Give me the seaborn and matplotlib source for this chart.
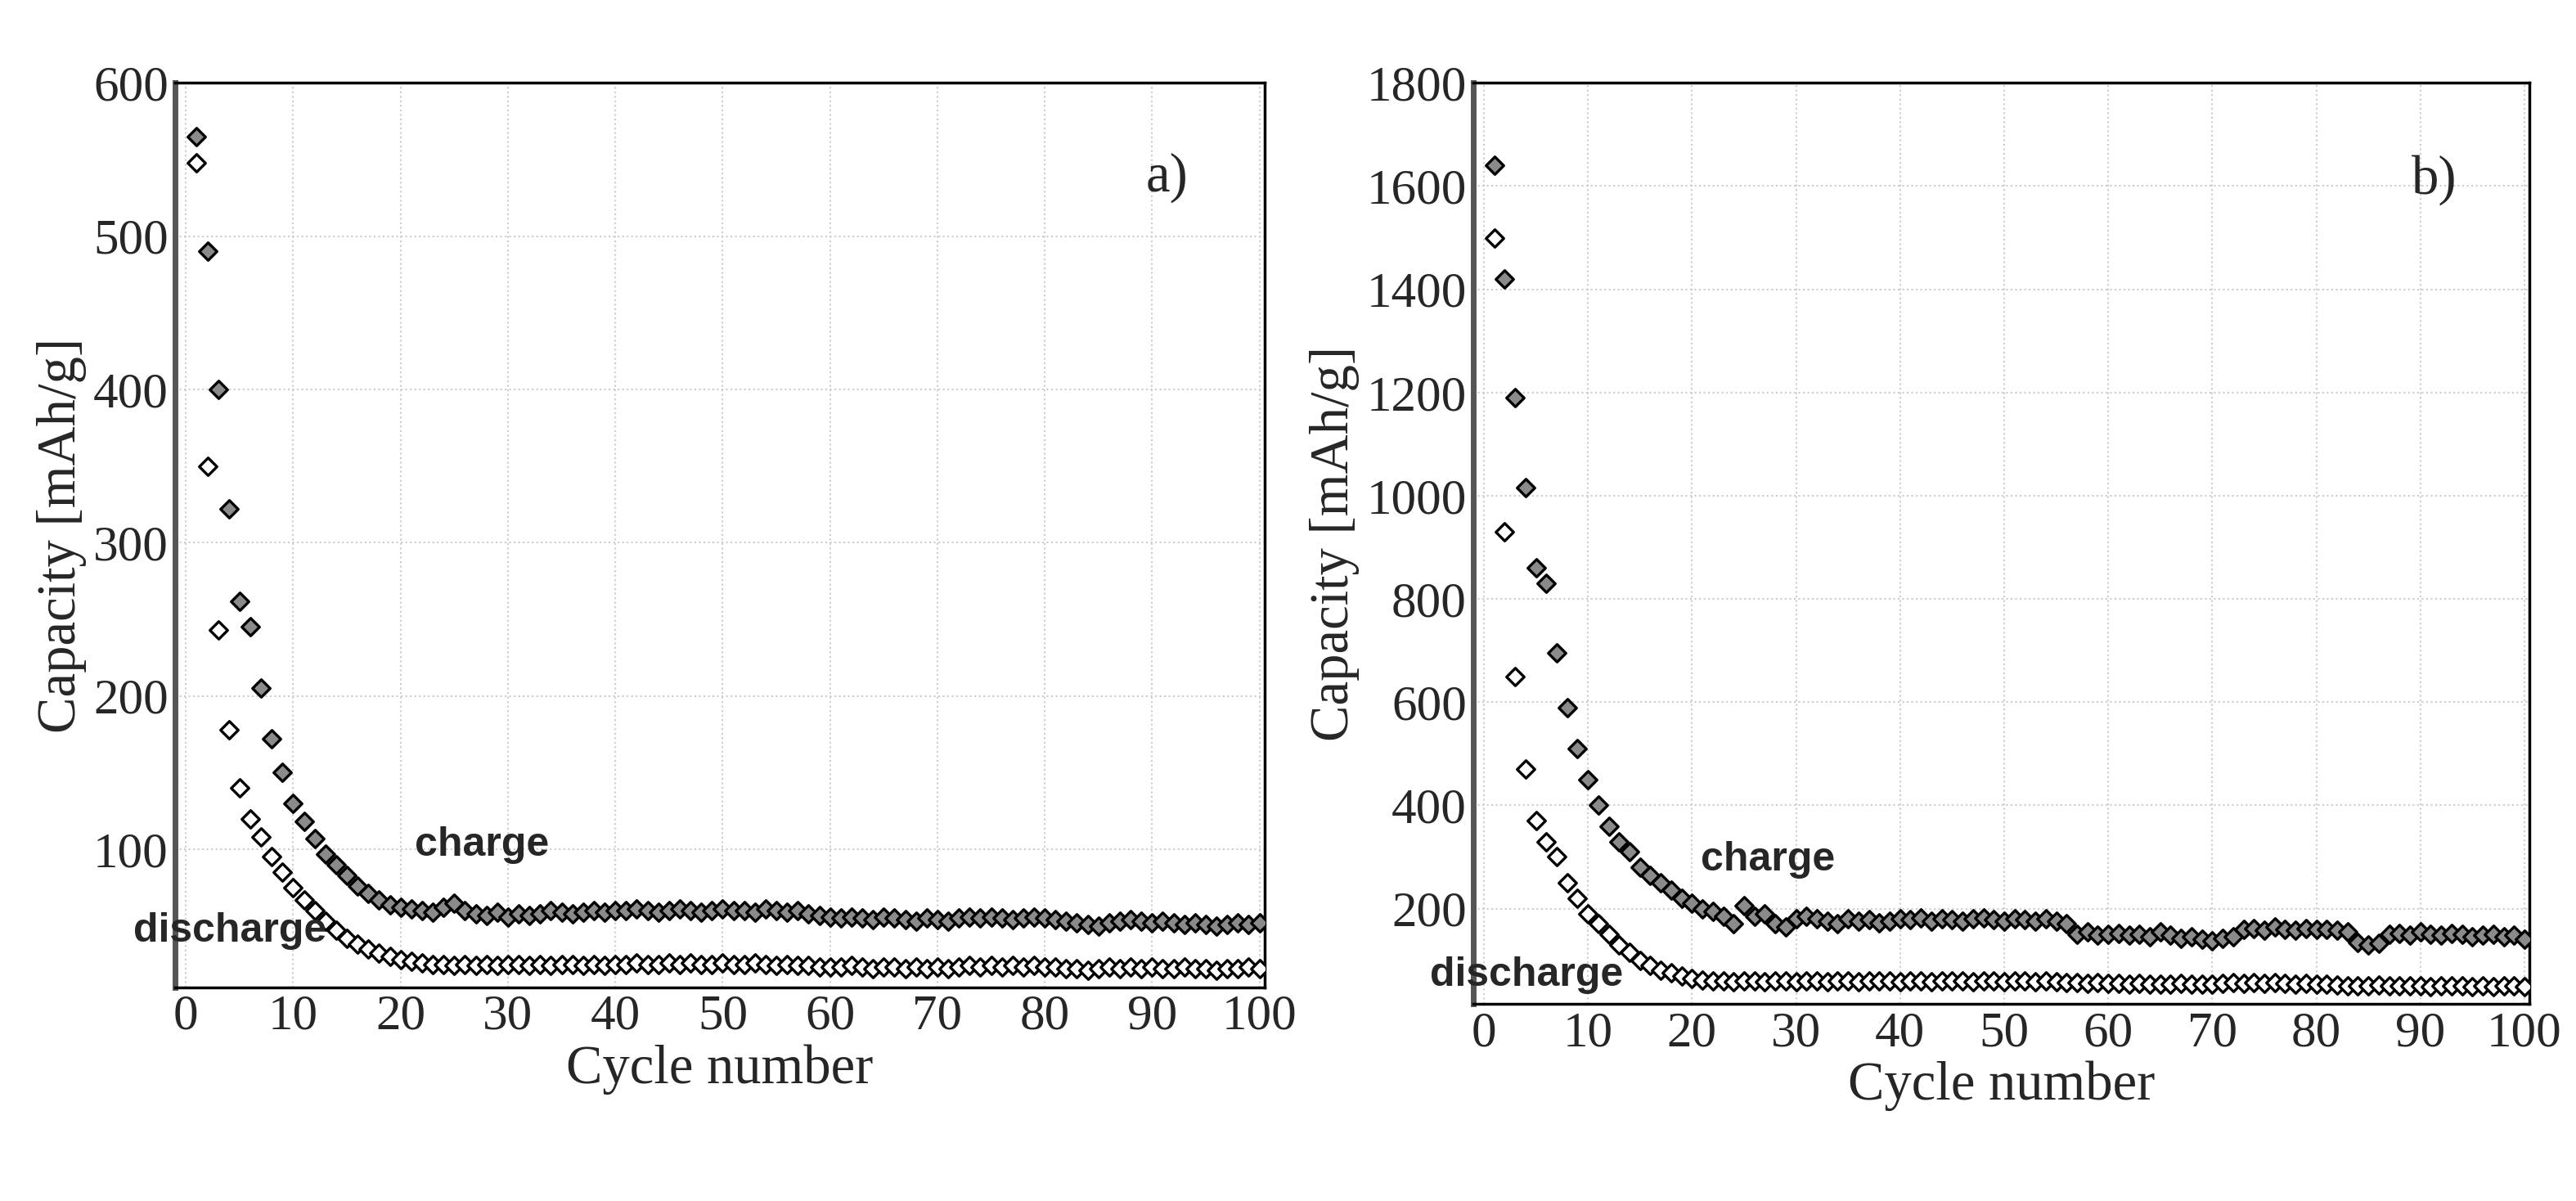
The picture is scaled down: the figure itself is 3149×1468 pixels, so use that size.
import numpy as np
import pandas as pd
import matplotlib
matplotlib.use("Agg")
import matplotlib.pyplot as plt
import seaborn as sns

cycles = list(range(1, 101))
charge_a = [565,490,400,322,262,245,205,172,150,130,118,107,97,90,83,76,71,67,64,62,
            61,60,59,62,65,60,58,57,59,56,58,57,58,60,59,58,59,60,59,60,
            60,61,60,59,60,61,60,59,60,61,60,60,59,61,60,59,60,58,57,56,
            55,56,55,54,56,55,54,53,55,54,53,55,56,55,56,55,54,55,56,55,
            54,53,52,51,50,52,53,54,53,52,53,52,51,52,51,50,51,52,51,52]
discharge_a = [548,350,243,178,140,120,108,95,85,75,67,60,53,47,42,38,35,32,30,28,
               27,26,25,25,24,25,24,25,24,25,25,24,25,24,25,25,24,25,24,25,
               25,26,25,25,26,25,26,25,25,26,25,25,26,25,24,25,24,24,23,23,
               23,24,23,22,23,23,22,23,22,23,22,23,24,23,24,23,24,23,24,23,
               23,22,22,21,22,23,22,23,22,23,22,22,23,22,22,21,22,22,23,22]
charge_b = [1640,1420,1190,1015,860,830,695,590,510,450,400,360,330,310,280,265,250,235,220,210,
            200,195,185,170,205,185,190,170,165,180,185,180,175,170,180,175,178,172,176,180,
            178,182,176,180,178,175,180,182,178,176,180,178,175,180,176,170,150,155,148,150,
            152,148,150,145,155,148,142,145,140,138,142,145,160,162,158,165,160,158,162,160,
            160,158,155,135,130,132,150,152,148,155,150,148,152,150,145,148,150,145,148,140]
discharge_b = [1500,930,650,470,370,330,300,250,220,190,170,150,130,115,100,90,80,75,70,65,
               62,60,60,58,60,59,58,60,59,58,60,59,58,59,60,58,59,60,59,58,
               59,60,58,59,60,59,58,60,59,58,59,60,58,59,58,57,56,55,56,55,
               55,54,55,54,53,54,55,54,53,54,55,56,55,56,55,56,55,54,55,54,
               53,52,51,50,51,52,51,50,51,50,49,50,51,50,49,50,49,50,51,48]
xticks = list(range(0, 101, 10))
yticks_a = list(range(100, 601, 100))
yticks_b = list(range(200, 1801, 200))

sns.set_style("white")
plt.rcParams['font.family'] = ['Liberation Serif', 'DejaVu Serif']

fig = plt.figure(figsize=(31.49, 14.68), dpi=100)
ax_a = fig.add_axes([0.068, 0.178, 0.423, 0.753])
ax_b = fig.add_axes([0.572, 0.164, 0.410, 0.767])

def panel(ax, charge, discharge, yticks, ylim, label, ctext, dtext):
    df = pd.DataFrame({"cycle": cycles, "charge": charge, "discharge": discharge})
    sns.scatterplot(data=df, x="cycle", y="charge", ax=ax, marker="D", s=120,
                    color="#8a8a8a", edgecolor="black", linewidth=2.4, zorder=3)
    sns.scatterplot(data=df, x="cycle", y="discharge", ax=ax, marker="D", s=120,
                    color="white", edgecolor="black", linewidth=2.4, zorder=3)
    ax.set_xlim(-1, 100.5)
    ax.set_ylim(*ylim)
    ax.set_xticks(xticks)
    ax.set_yticks(yticks)
    ax.grid(True, color="#cccccc", linestyle=":", linewidth=1.5)
    ax.tick_params(axis="both", labelsize=44, direction="in", length=8, width=2, pad=6)
    for sp in ax.spines.values():
        sp.set_linewidth(2.5)
        sp.set_color("black")
    ax.spines["left"].set_color("#555555")
    ax.spines["left"].set_linewidth(5)
    ax.set_xlabel("Cycle number", fontsize=48, labelpad=4)
    ax.set_ylabel("Capacity [mAh/g]", fontsize=48, labelpad=6)
    ax.text(0.91, 0.88, label, transform=ax.transAxes, fontsize=48, ha="center")
    ax.text(ctext[0], ctext[1], "charge", fontsize=36, fontweight="bold",
            family=["Liberation Sans", "DejaVu Sans"], transform=ax.transAxes)
    ax.text(dtext[0], dtext[1], "discharge", fontsize=36, fontweight="bold",
            family=["Liberation Sans", "DejaVu Sans"], transform=ax.transAxes, ha="center")

panel(ax_a, charge_a, discharge_a, yticks_a, (10, 600), "a)", (0.22, 0.145), (0.05, 0.05))
panel(ax_b, charge_b, discharge_b, yticks_b, (15, 1800), "b)", (0.215, 0.145), (0.05, 0.02))

fig.savefig("out.png", dpi=100)
